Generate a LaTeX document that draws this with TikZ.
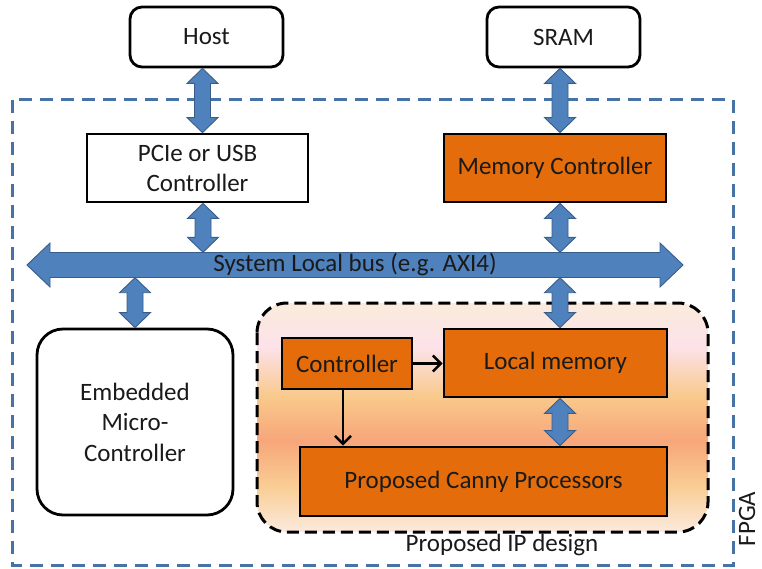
\documentclass[tikz,border=0pt]{standalone}
\usepackage{fontspec}
\setmainfont{Carlito}
\usetikzlibrary{arrows.meta,calc}

\definecolor{blockorange}{HTML}{E46C0A}
\definecolor{busblue}{HTML}{4F81BD}
\definecolor{busedge}{HTML}{385D8A}
\definecolor{fpgablue}{HTML}{4672A6}
\definecolor{ink}{HTML}{1A1A1A}
\definecolor{ipA}{HTML}{FBEBDC}
\definecolor{ipB}{HTML}{FCE2EA}
\definecolor{ipC}{HTML}{F9C98B}
\definecolor{ipD}{HTML}{F7A67A}
\definecolor{ipE}{HTML}{F9CD94}
\definecolor{ipF}{HTML}{FCEADE}

% warm vertical fill of the IP region (stops between 25bp and 75bp cover the box)
\pgfdeclareverticalshading{ipfill}{100bp}{%
  color(0bp)=(ipF);
  color(25bp)=(ipF);
  color(35bp)=(ipE);
  color(45bp)=(ipD);
  color(54.5bp)=(ipC);
  color(65.5bp)=(ipB);
  color(75bp)=(ipA);
  color(100bp)=(ipA)}

% two-headed block arrow drawn vertically at x = #1 between two anchors
\newcommand\blockpair[3]{%
  \path[blockarrow] let \p1=(#2), \p2=(#3) in
    (#1pt,\y1) -- ++(15.5pt,-15pt) -- ++(-7.5pt,0pt)
    -- (#1pt+8pt,\y2+15pt) -- ++(7.5pt,0pt) -- (#1pt,\y2)
    -- ++(-15.5pt,15pt) -- ++(7.5pt,0pt)
    -- (#1pt-8pt,\y1-15pt) -- ++(-7.5pt,0pt) -- cycle;}

\tikzset{
  box/.style={draw=black, line width=2.8pt, text=ink, align=center,
    inner sep=0pt},
  roundbox/.style={box, rounded corners=12pt, fill=white},
  plainbox/.style={box, fill=white},
  orangebox/.style={box, fill=blockorange},
  blockarrow/.style={fill=busblue, draw=busedge, line width=0.9pt},
  ctrlarrow/.style={draw=black, line width=2.5pt,
    -{Straight Barb[length=8pt,width=16pt,line width=2.5pt]}},
}

\begin{document}
\begin{tikzpicture}[x=1pt,y=-1pt, font=\fontsize{25}{30}\selectfont]
\useasboundingbox (0,0) rectangle (762,569);

% FPGA boundary
\draw[fpgablue, line width=3pt, dash pattern=on 13pt off 8pt]
  (12,100) rectangle (733,565);
\node[text=ink, rotate=90, inner sep=0pt] (fpga) at (747,519) {FPGA};

% proposed IP region
\shade[shading=ipfill, rounded corners=30pt] (257,303) rectangle (708,532);
\draw[black, line width=3pt, dash pattern=on 12pt off 6pt, rounded corners=30pt]
  (257,303) rectangle (708,532);
\node[text=ink] (iplabel) at (502,545) {Proposed IP design};

% external parts
\node[roundbox, minimum width=153pt, minimum height=60pt] (host) at (206.5,37) {Host};
\node[roundbox, minimum width=153pt, minimum height=60pt] (sram) at (563.5,37) {SRAM};

% on-chip blocks
\node[plainbox, minimum width=221pt, minimum height=68pt] (pcie) at (197.5,168)
  {PCIe or USB\\Controller};
\node[orangebox, minimum width=222pt, minimum height=68pt] (memctrl) at (555,168)
  {Memory Controller};
\node[roundbox, rounded corners=26pt, minimum width=196pt, minimum height=186pt,
  font=\fontsize{25}{30.5}\selectfont] (mcu) at (135,422)
  {Embedded\\Micro-\\Controller};

\node[orangebox, minimum width=130pt, minimum height=51pt] (ctrl) at (347,363.5)
  {Controller};
\node[orangebox, minimum width=223pt, minimum height=68pt] (lmem) at (555.5,363)
  {Local memory};
\node[orangebox, minimum width=367pt, minimum height=69pt] (canny) at (483.5,481.5)
  {Proposed Canny Processors};

% system bus
\coordinate (busL) at (27,265);
\coordinate (busR) at (683,265);
\path[blockarrow] let \p1=(busL), \p2=(busR) in
  (\x1,\y1) -- (\x1+23pt,\y1+22pt) -- (\x1+23pt,\y1+12.5pt)
  -- (\x2-23pt,\y1+12.5pt) -- (\x2-23pt,\y1+22pt) -- (\x2,\y1)
  -- (\x2-23pt,\y1-22pt) -- (\x2-23pt,\y1-12.5pt)
  -- (\x1+23pt,\y1-12.5pt) -- (\x1+23pt,\y1-22pt) -- cycle;
\node[text=ink, minimum height=25pt, inner sep=0pt] (bus) at (355,265)
  {System Local bus (e.g. AXI4)};

% data paths
\blockpair{202.5}{host.south}{pcie.north}
\blockpair{560}{sram.south}{memctrl.north}
\blockpair{203}{pcie.south}{bus.north}
\blockpair{560}{memctrl.south}{bus.north}
\blockpair{135}{bus.south}{mcu.north}
\blockpair{560}{bus.south}{lmem.north}
\blockpair{560}{lmem.south}{canny.north}

% control paths
\draw[ctrlarrow] (ctrl.east) -- (lmem.west |- ctrl.east);
\draw[ctrlarrow] ([xshift=-4pt]ctrl.south) -- ([xshift=-4pt]ctrl.south |- canny.north);
\end{tikzpicture}
\end{document}
